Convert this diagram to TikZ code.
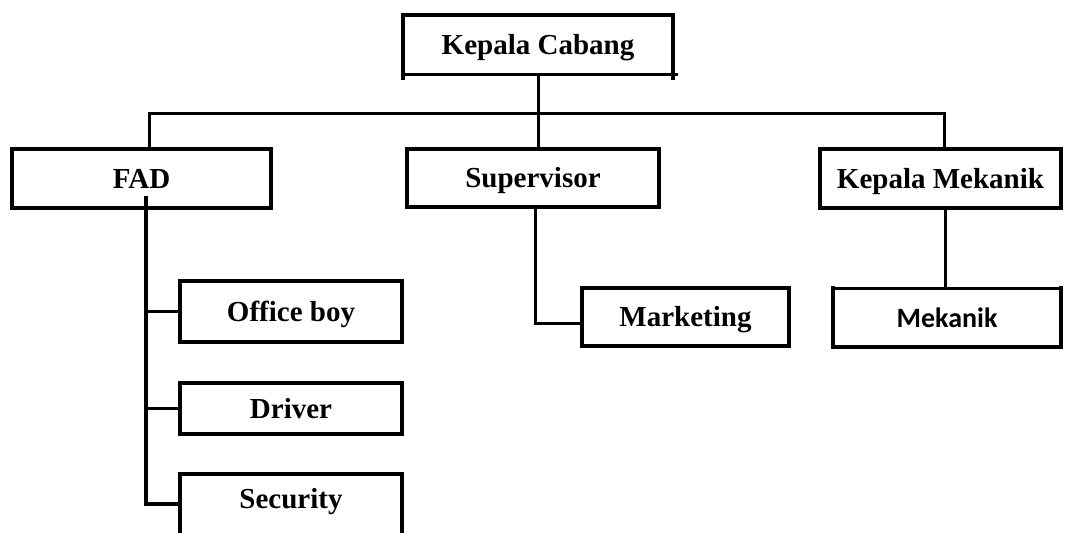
\documentclass[tikz,border=0pt]{standalone}
\usepackage{fontspec}
\setmainfont{Liberation Serif}
\newfontfamily\mekfont{Carlito}
\tikzset{
  lab/.style={font=\fontsize{29}{34}\selectfont\bfseries, inner sep=0pt, text height=19pt, text depth=0pt, align=center},
  orgbox/.style={lab, draw, line width=4pt},
  conn/.style={line width=3pt},
}
\begin{document}
\begin{tikzpicture}[x=1pt,y=-1pt]
\fill[white] (0,0) rectangle (1066,533);
\useasboundingbox (0,0) rectangle (1066,533);

% Kepala Cabang
\node[lab, minimum width=270pt, minimum height=59pt] (kc) at (538,44.5) {Kepala Cabang};
\draw[line width=4pt] ([xshift=-2pt]kc.north west) -- ([xshift=2pt]kc.north east);
\draw[line width=3pt] ([xshift=2pt]kc.south west) -- ([xshift=5pt]kc.south east);
\draw[line width=4.5pt] ([yshift=-6pt]kc.south west) -- ([yshift=2pt]kc.north west);
\draw[line width=4.5pt] ([yshift=-6pt]kc.south east) -- ([yshift=2pt]kc.north east);

% second level
\node[orgbox, minimum width=259pt, minimum height=59pt] (fad) at (141.5,178.5) {FAD};
\node[orgbox, minimum width=252pt, minimum height=58pt] (sup) at (533,178) {Supervisor};
\node[orgbox, minimum width=241pt, minimum height=59pt] (km) at (940.5,178.5) {Kepala Mekanik};

% FAD children
\node[orgbox, line width=4.5pt, minimum width=222pt, minimum height=61pt] (ob) at (291,311.5) {Office boy};
\node[orgbox, line width=4.5pt, minimum width=222pt, minimum height=51pt] (dr) at (291,408.5) {Driver};
\node[lab, minimum width=222pt, minimum height=50pt] (sec) at (291,499) {Security};
\draw[line width=4.5pt] ([yshift=-70pt]sec.north west) -- (sec.north west) -- (sec.north east) -- ([yshift=-70pt]sec.north east);

% Supervisor child
\node[orgbox, minimum width=207pt, minimum height=58pt] (mkt) at (685.5,317) {Marketing};

% Kepala Mekanik child
\node[lab, font=\mekfont\fontsize{28}{33}\selectfont\bfseries, text height=18pt, minimum width=228pt, minimum height=58pt] (mek) at (947,318) {Mekanik};
\draw[line width=3pt] ([xshift=-2pt]mek.north west) -- ([xshift=2pt]mek.north east);
\draw[line width=4.5pt] ([xshift=-2pt]mek.south west) -- ([xshift=2pt]mek.south east);
\draw[line width=4.5pt] ([yshift=-2pt]mek.south west) -- ([yshift=3pt]mek.north west);
\draw[line width=4.5pt] ([yshift=-2pt]mek.south east) -- ([yshift=3pt]mek.north east);

% connectors
\coordinate (hl) at (149,113);
\coordinate (hr) at (944,113);
\draw[conn] (kc.south) -- (kc.south |- sup.north);
\draw[conn] (fad.north -| hl) -- (hl) -- (hr) -- (hr |- km.north);

\coordinate (ft) at (146,196);
\draw[conn, line width=3.5pt] (ft) |- ([yshift=-5pt]sec.west);
\draw[conn] (ft |- ob.west) -- (ob.west);
\draw[conn] (ft |- dr.west) -- (dr.west);

\coordinate (st) at (535,207);
\draw[conn] (st) |- ([yshift=-6pt]mkt.west);

\draw[conn] ([xshift=4.5pt]km.south) -- ([xshift=4.5pt]km.south |- mek.north);
\end{tikzpicture}
\end{document}
